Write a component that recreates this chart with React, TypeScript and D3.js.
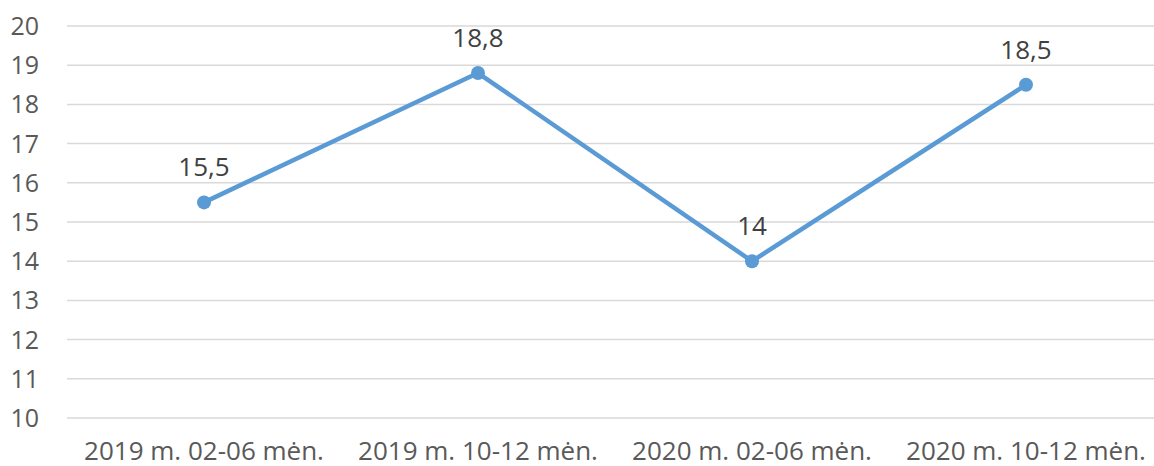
import React, { useEffect, useRef } from 'react';
import * as d3 from 'd3';

// Chart data
const categories = ['2019 m. 02-06 mėn.', '2019 m. 10-12 mėn.', '2020 m. 02-06 mėn.', '2020 m. 10-12 mėn.'];
const values = [15.5, 18.8, 14, 18.5];
const valueLabels = ['15,5', '18,8', '14', '18,5'];
const yTicks = [10, 11, 12, 13, 14, 15, 16, 17, 18, 19, 20];

const App = () => {
  const svgRef = useRef<SVGSVGElement>(null);

  useEffect(() => {
    const svg = d3.select(svgRef.current);
    svg.selectAll('*').remove();

    const W = 1154;
    const font = '"Open Sans", "Noto Sans", sans-serif';

    // plot area
    const left = 67;
    const right = 1163;
    const top = 26;
    const bottom = 418;

    const x = d3.scaleBand<string>()
      .domain(categories)
      .range([left, right]);

    const y = d3.scaleLinear()
      .domain([10, 20])
      .range([bottom, top]);

    // grid lines
    svg.append('g')
      .selectAll('line')
      .data(yTicks)
      .enter().append('line')
      .attr('x1', left)
      .attr('x2', W)
      .attr('y1', d => y(d))
      .attr('y2', d => y(d))
      .attr('stroke', '#d9d9d9')
      .attr('stroke-width', 1.5);

    // y tick labels
    svg.append('g')
      .selectAll('text')
      .data(yTicks)
      .enter().append('text')
      .attr('x', 39)
      .attr('y', d => y(d))
      .attr('dy', '0.36em')
      .attr('text-anchor', 'end')
      .style('font-family', font)
      .style('font-size', '25px')
      .style('fill', '#595959')
      .text(d => d);

    // category labels
    svg.append('g')
      .selectAll('text')
      .data(categories)
      .enter().append('text')
      .attr('x', d => (x(d) as number) + x.bandwidth() / 2)
      .attr('y', 460)
      .attr('text-anchor', 'middle')
      .style('font-family', font)
      .style('font-size', '26px')
      .style('fill', '#595959')
      .text(d => d);

    const pts = categories.map((c, i) => ({ c, v: values[i], label: valueLabels[i] }));
    const cx = (d: { c: string }) => (x(d.c) as number) + x.bandwidth() / 2;

    const line = d3.line<{ c: string; v: number }>()
      .x(d => cx(d))
      .y(d => y(d.v));

    svg.append('path')
      .datum(pts)
      .attr('fill', 'none')
      .attr('stroke', '#5b9bd5')
      .attr('stroke-width', 4.5)
      .attr('stroke-linejoin', 'round')
      .attr('stroke-linecap', 'round')
      .attr('d', line);

    svg.append('g')
      .selectAll('circle')
      .data(pts)
      .enter().append('circle')
      .attr('cx', d => cx(d))
      .attr('cy', d => y(d.v))
      .attr('r', 7)
      .attr('fill', '#5b9bd5');

    // data labels
    svg.append('g')
      .selectAll('text')
      .data(pts)
      .enter().append('text')
      .attr('x', d => cx(d))
      .attr('y', d => y(d.v) - 26)
      .attr('text-anchor', 'middle')
      .style('font-family', font)
      .style('font-size', '26px')
      .style('fill', '#404040')
      .text(d => d.label);
  }, []);

  return (
    <svg
      ref={svgRef}
      width={1154}
      height={466}
      style={{ position: 'absolute', left: 0, top: 0, background: '#fff' }}
    />
  );
};

export default App;
